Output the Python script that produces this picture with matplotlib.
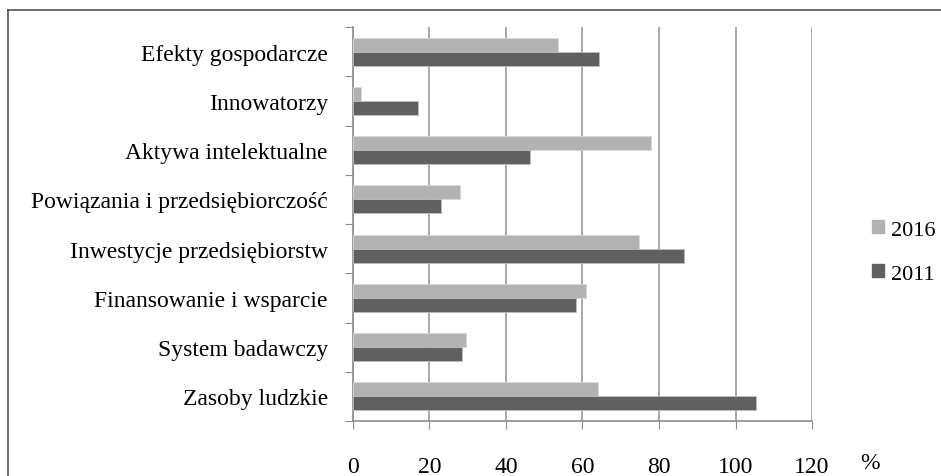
import matplotlib.pyplot as plt
import numpy as np
from matplotlib.lines import Line2D

# data (bottom -> top)
categories = ['Zasoby ludzkie', 'System badawczy', 'Finansowanie i wsparcie',
              'Inwestycje przedsiębiorstw', 'Powiązania i przedsiębiorczość',
              'Aktywa intelektualne', 'Innowatorzy', 'Efekty gospodarcze']
vals_2016 = [64.0, 29.5, 61.0, 74.8, 28.0, 77.8, 2.2, 53.5]
vals_2011 = [105.4, 28.4, 58.3, 86.5, 22.9, 46.3, 16.9, 64.3]
xticks = [0, 20, 40, 60, 80, 100, 120]

plt.rcParams['font.family'] = ['Liberation Serif', 'DejaVu Serif']

fig = plt.figure(figsize=(9.41, 4.77), dpi=100)
ax = fig.add_axes([0.375, 0.1153, 0.488, 0.8260])

y = np.arange(len(categories))
h = 0.285
light = '#b2b2b2'
dark = '#606060'
ax.barh(y + h / 2, vals_2016, height=h, color=light, edgecolor='#d8d8d8', linewidth=0.6, label='2016', zorder=3)
ax.barh(y - h / 2, vals_2011, height=h, color=dark, edgecolor='#bdbdbd', linewidth=0.6, label='2011', zorder=3)

ax.set_xlim(0, 120)
ax.set_ylim(-0.5, len(categories) - 0.5)
ax.set_xticks(xticks)
ax.set_xticklabels([str(t) for t in xticks], fontsize=17)
ax.set_yticks(np.arange(-0.5, len(categories), 1), minor=False)
ax.set_yticklabels([])
ax.set_yticks(y, minor=True)
ax.set_yticklabels(categories, minor=True, fontsize=17)
ax.tick_params(axis='y', which='minor', length=0, pad=18)
ax.tick_params(axis='y', which='major', length=6, color='#8c8c8c', direction='out')
ax.tick_params(axis='x', length=6, color='#8c8c8c', direction='out', pad=19)

ax.grid(axis='x', color='#9a9a9a', linewidth=1.2, zorder=0)
for s in ['top', 'right']:
    ax.spines[s].set_visible(False)
for s in ['left', 'bottom']:
    ax.spines[s].set_color('#8c8c8c')
    ax.spines[s].set_linewidth(1.2)

fig.text(0.925, 0.006, '%', fontsize=17, ha='center', va='bottom')

handles = [plt.Rectangle((0, 0), 1, 1, color=light), plt.Rectangle((0, 0), 1, 1, color=dark)]
fig.legend(handles, ['2016', '2011'], loc='center left', bbox_to_anchor=(0.917, 0.47),
           frameon=False, fontsize=16, handlelength=0.55, handleheight=0.55,
           handletextpad=0.3, labelspacing=1.1, borderaxespad=0)

# outer frame of the original chart
fig.add_artist(Line2D([8 / 941, 1.0], [1 - 11 / 477, 1 - 11 / 477], color='#555555', linewidth=1.2))
fig.add_artist(Line2D([8 / 941, 8 / 941], [0, 1 - 11 / 477], color='#555555', linewidth=1.2))

fig.savefig('out.png', dpi=100)
